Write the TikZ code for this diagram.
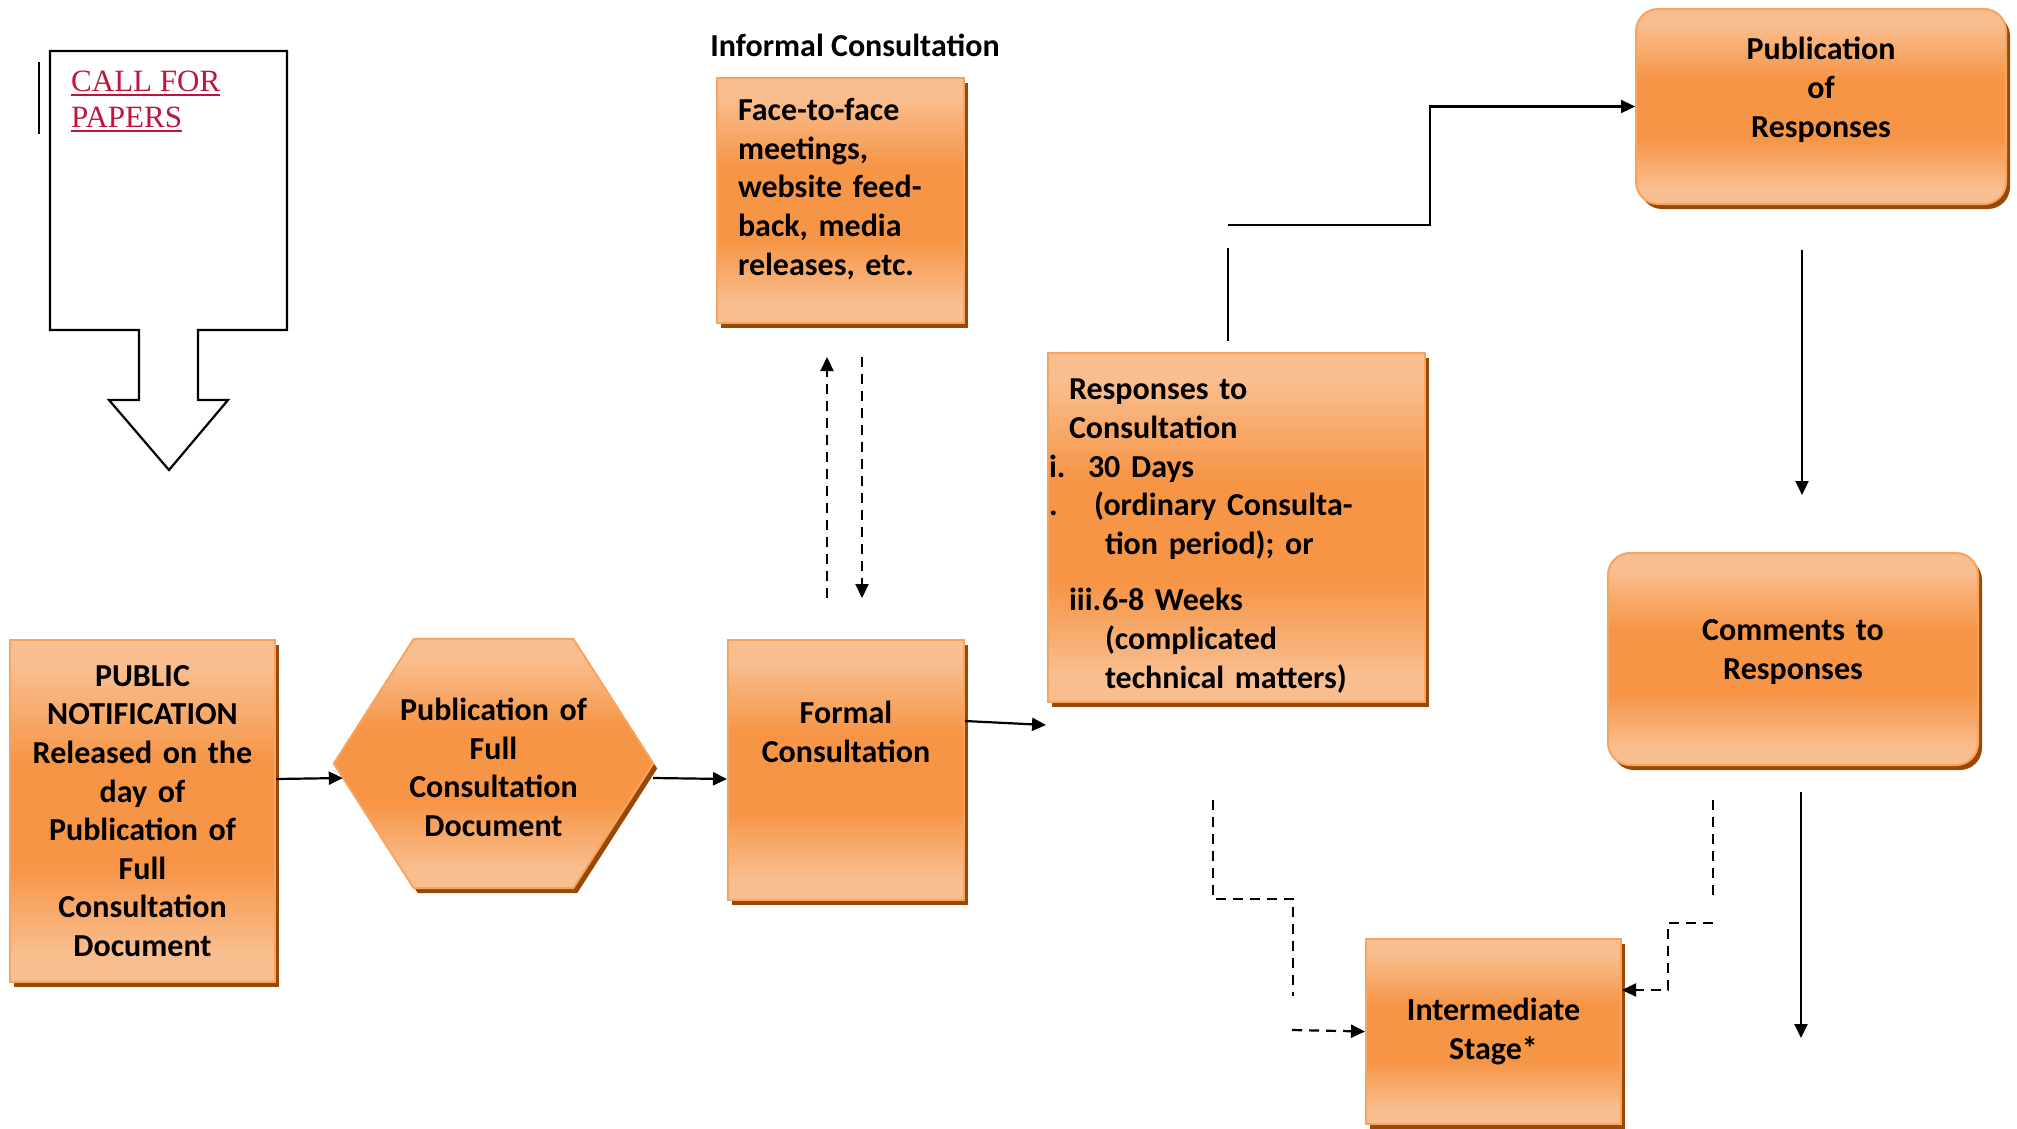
\documentclass[tikz,border=0pt]{standalone}
\usepackage{fontspec}
\setmainfont{Carlito}
\newfontfamily\tnr{Liberation Serif}
\usetikzlibrary{positioning,arrows.meta,calc,shadows,backgrounds}
\definecolor{lite}{HTML}{F9BE8F}
\definecolor{dark}{HTML}{F69546}
\definecolor{rim}{HTML}{F8A35E}
\definecolor{brownx}{HTML}{984807}
\definecolor{crim}{HTML}{C0143C}
\pgfdeclareverticalshading{orangeband}{100bp}{color(0bp)=(lite); color(25bp)=(lite); color(29bp)=(lite); color(42bp)=(dark); color(57bp)=(dark); color(71bp)=(lite); color(75bp)=(lite); color(100bp)=(lite)}
\newcommand{\ulink}[1]{\vtop{\hbox{#1}\kern1.5pt\hrule height 2.5pt}}

\begin{document}
\begin{tikzpicture}[x=1pt, y=-1pt,
  box/.style={draw=rim, line width=2pt, shade, shading=orangeband, drop shadow={shadow xshift=4pt, shadow yshift=-5pt, fill=brownx, opacity=1}},
  calf/.style={font=\bfseries\fontsize{32}{38.6}\selectfont},
  arr/.style={-{Triangle[length=14pt,width=13pt]}, line width=2.2pt},
  dsh/.style={line width=2.2pt, dash pattern=on 10pt off 7pt}]
  \useasboundingbox (0,0) rectangle (2017,1128);

  % call for papers
  \draw[line width=2.2pt, fill=white] (50,51) -- (287,51) -- (287,330) -- (198,330) -- (198,400) -- (228,400) -- (169,470) -- (109,400) -- (139,400) -- (139,330) -- (50,330) -- cycle;
  \draw[line width=2pt] (39,62) -- (39,134);
  \node[font=\tnr\fontsize{31}{36}\selectfont, text=crim, anchor=north west, inner sep=0pt, align=left] (cfp) at (71,71) {\ulink{CALL FOR}\\\ulink{PAPERS}};

  % main row
  \node[box, calf, anchor=north west, minimum width=265pt, minimum height=342pt, text width=245pt, align=center] (pubnote) at (9,639) {PUBLIC\\NOTIFICATION\\Released on the\\day of\\Publication of\\Full\\Consultation\\Document};
  \node[calf, minimum width=319pt, minimum height=249pt, text width=220pt, align=center] (hexpub) at (493.5,763.5) {\rule{0pt}{30pt}Publication of\\Full\\Consultation\\Document};
  \begin{scope}[on background layer]
    \draw[box] (hexpub.west) -- ($(hexpub.north west)+(80,0)$) -- ($(hexpub.north east)+(-80,0)$) -- (hexpub.east) -- ($(hexpub.south east)+(-80,0)$) -- ($(hexpub.south west)+(80,0)$) -- cycle;
  \end{scope}
  \node[box, calf, anchor=north west, minimum width=236pt, minimum height=260pt, text width=220pt, align=center] (formal) at (727,639) {Formal\\Consultation\\[38pt]\mbox{}};

  % informal
  \node[calf, inner sep=0pt] (inflabel) at (855,45) {Informal Consultation};
  \node[box, calf, anchor=north west, minimum width=247pt, minimum height=245pt, text width=205pt, inner xsep=21pt, align=left] (informal) at (716,77) {Face-to-face\\meetings,\\website feed-\\back, media\\releases, etc.\\[-11pt]\mbox{}};

  % responses
  \node[box, calf, anchor=north west, minimum width=377pt, minimum height=349pt, text width=375pt, inner xsep=1pt, align=left] (resp) at (1047,352) {%
    \hspace*{20pt}\rule{0pt}{38pt}Responses to\\
    \hspace*{20pt}Consultation\\
    \makebox[39pt][l]{i.}30 Days\\
    \makebox[45pt][l]{.}(ordinary Consulta-\\
    \hspace*{56pt}tion period); or\\[18pt]
    \hspace*{20pt}\makebox[33pt][l]{iii.}6-8 Weeks\\
    \hspace*{56pt}(complicated\\
    \hspace*{56pt}technical matters)};

  \node[box, calf, rounded corners=22pt, anchor=north west, minimum width=370pt, minimum height=195pt, text width=330pt, align=center] (pubresp) at (1635,8) {Publication\\of\\Responses\\[0pt]\mbox{}};
  \node[box, calf, rounded corners=22pt, anchor=north west, minimum width=370pt, minimum height=212pt, text width=330pt, align=center] (comments) at (1607,552) {Comments to\\Responses\\[-20pt]\mbox{}};
  \node[box, calf, anchor=north west, minimum width=255pt, minimum height=185pt, text width=235pt, align=center] (inter) at (1365,938) {Intermediate\\Stage*};

  % connectors
  \draw[arr] ($(pubnote.east)+(0,-32)$) -- ($(hexpub.west)+(9,14.5)$);
  \draw[arr] ($(hexpub.east)+(0,14.5)$) -- ($(formal.west)+(0,9)$);
  \draw[arr] ($(formal.east)+(0,-49)$) -- ($(resp.south west)+(-1,22)$);
  \draw[arr, dsh] ($(formal.north)+(-19,-41)$) -- ($(informal.south)+(-13.5,33)$);
  \draw[arr, dsh] ($(informal.south)+(21.5,33)$) -- ($(formal.north)+(16,-41)$);

  \coordinate (stubA) at ($(resp.north)+(-8.5,-11)$);
  \coordinate (stubB) at ($(resp.north)+(-8.5,-104)$);
  \coordinate (elbow) at ($(resp.north)+(-8.5,-127)$);
  \draw[line width=2.2pt] (stubA) -- (stubB);
  \draw[arr] (elbow) -| ($(pubresp.west)+(-205,0)$) -- (pubresp.west);
  \draw[arr] ($(pubresp.south)+(-19,45)$) -- ($(comments.north)+(9,-57)$);
  \coordinate (exitpt) at ($(comments.south)+(8,272)$);
  \draw[arr] ($(comments.south)+(8,26)$) -- (exitpt);

  \draw[dsh] ($(resp.south)+(-23.5,97)$) -- ++(0,99) -- ++(80,0) -- ++(0,97);
  \draw[arr, dsh] ($(inter.west)+(-73,-1.5)$) -- (inter.west);
  \draw[dsh] ($(comments.south)+(-80,34)$) -- ++(0,101);
  \draw[arr, dsh] ($(comments.south)+(-80,157)$) -- ++(-45,0) |- ($(inter.east)+(0,-41.5)$);
\end{tikzpicture}
\end{document}
